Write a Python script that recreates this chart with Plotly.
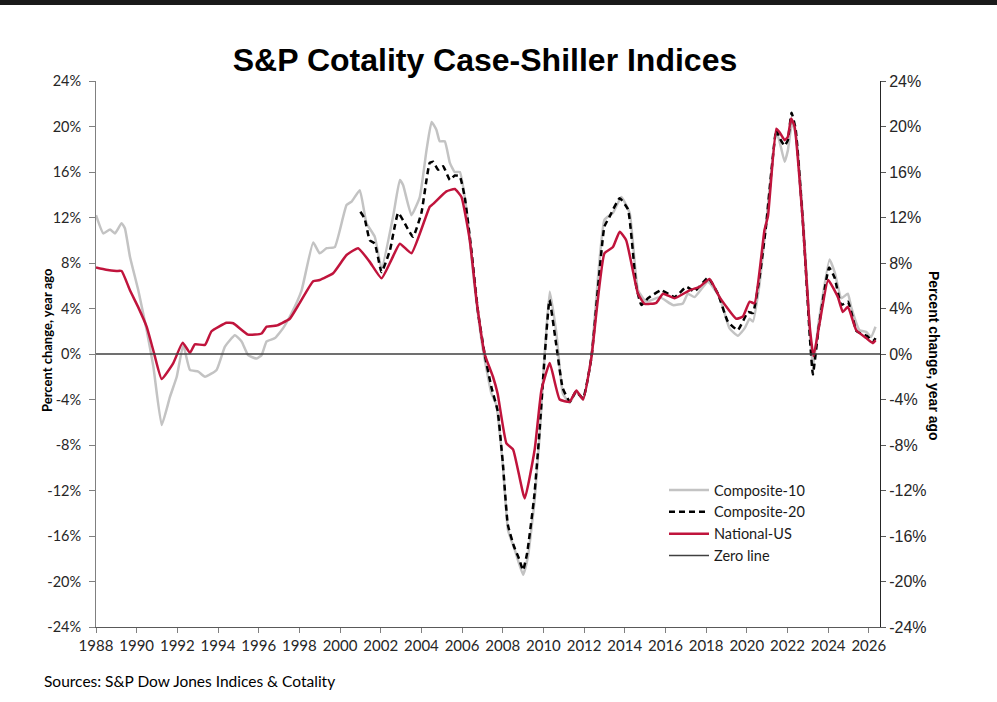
import plotly.graph_objects as go

# ---- data (decimal years, percent change year ago) ----
nat_x = [1988.0, 1988.5, 1989.0, 1989.26, 1989.67, 1990.08, 1990.49, 1990.85, 1991.23, 1991.8,
         1992.26, 1992.62, 1992.86, 1993.36, 1993.68, 1994.42, 1994.75, 1995.48, 1996.14, 1996.39,
         1996.88, 1997.12, 1997.53, 1998.02, 1998.68, 1999.0, 1999.66, 2000.32, 2000.89, 2001.46,
         2002.04, 2002.53, 2002.94, 2003.51, 2004.41, 2004.58, 2005.23, 2005.64, 2005.97, 2006.38,
         2006.71, 2007.11, 2007.52, 2007.75, 2008.18, 2008.51, 2009.08, 2009.57, 2009.9, 2010.31,
         2010.8, 2011.29, 2011.62, 2011.95, 2012.36, 2013.0, 2013.42, 2013.75, 2014.07, 2014.65,
         2014.98, 2015.55, 2015.88, 2016.45, 2017.19, 2017.68, 2018.17, 2018.66, 2019.48, 2019.81,
         2020.14, 2020.38, 2020.87, 2021.04, 2021.45, 2021.61, 2021.86, 2022.02, 2022.18, 2022.35,
         2022.76, 2023.08, 2023.28, 2023.58, 2024.0, 2024.48, 2024.72, 2024.97, 2025.38, 2025.87,
         2026.2, 2026.33]
nat_y = [7.6, 7.4, 7.3, 7.3, 5.6, 4.1, 2.4, 0.1, -2.2, -0.8,
         1.0, 0.1, 0.85, 0.8, 2.0, 2.75, 2.7, 1.7, 1.8, 2.4,
         2.5, 2.7, 3.1, 4.5, 6.4, 6.5, 7.1, 8.7, 9.3, 8.1,
         6.65, 8.3, 9.7, 8.85, 12.95, 13.2, 14.3, 14.5, 13.8, 10.0,
         4.75, 0.0, -2.0, -3.5, -7.85, -8.4, -12.7, -8.4, -3.2, -0.8,
         -4.0, -4.2, -3.2, -4.0, -0.3, 8.85, 9.4, 10.75, 10.0, 5.3,
         4.4, 4.5, 5.3, 4.9, 5.6, 5.9, 6.6, 5.0, 3.1, 3.3,
         4.6, 4.45, 10.9, 12.1, 19.8, 19.5, 18.8, 19.1, 20.7, 20.0,
         11.5, 2.7, -0.2, 2.7, 6.5, 5.0, 3.7, 4.15, 2.1, 1.4,
         0.95, 1.2]

c10_x = [1988.0, 1988.36, 1988.69, 1988.93, 1989.26, 1989.42, 1989.67, 1990.08, 1990.49, 1990.82,
         1991.23, 1991.64, 1991.97, 1992.29, 1992.62, 1993.03, 1993.36, 1993.93, 1994.34, 1994.83,
         1995.16, 1995.48, 1995.9, 1996.14, 1996.39, 1996.8, 1997.21, 1997.62, 1998.11, 1998.68,
         1999.0, 1999.34, 1999.74, 2000.32, 2000.57, 2000.97, 2001.3, 2001.71, 2002.04, 2002.61,
         2002.94, 2003.1, 2003.51, 2003.92, 2004.25, 2004.5, 2004.74, 2004.9, 2005.15, 2005.4,
         2005.64, 2005.89, 2006.22, 2006.62, 2007.03, 2007.44, 2007.69, 2008.01, 2008.26, 2008.59,
         2009.0, 2009.24, 2009.57, 2009.82, 2010.06, 2010.31, 2010.64, 2010.96, 2011.29, 2011.62,
         2011.95, 2012.36, 2013.0, 2013.42, 2013.83, 2014.24, 2014.65, 2015.06, 2015.72, 2016.37,
         2016.86, 2017.1, 2017.43, 2018.09, 2018.66, 2019.15, 2019.56, 2019.89, 2020.14, 2020.3,
         2020.63, 2020.95, 2021.45, 2021.61, 2021.86, 2022.02, 2022.23, 2022.43, 2022.8, 2023.1,
         2023.25, 2023.55, 2024.07, 2024.32, 2024.65, 2024.97, 2025.13, 2025.54, 2025.87, 2026.11,
         2026.33]
c10_y = [12.2, 10.6, 10.95, 10.6, 11.5, 11.05, 8.55, 5.6, 2.1, -1.1,
         -6.25, -3.75, -2.0, 0.8, -1.4, -1.55, -2.0, -1.4, 0.65, 1.65,
         1.1, -0.1, -0.4, -0.1, 1.1, 1.4, 2.3, 3.6, 5.6, 9.8,
         8.85, 9.3, 9.4, 13.1, 13.4, 14.4, 11.5, 10.3, 7.5, 12.1,
         15.3, 14.85, 12.2, 13.8, 17.9, 20.4, 19.7, 18.7, 18.7, 16.8,
         16.0, 16.0, 12.7, 5.9, 0.35, -3.45, -4.5, -9.9, -15.5, -17.2,
         -19.4, -17.8, -12.8, -7.0, 0.0, 5.5, 1.8, -3.5, -4.3, -3.3,
         -4.0, -0.2, 11.8, 12.4, 13.8, 12.4, 5.6, 4.6, 5.0, 4.3,
         4.45, 5.3, 5.0, 6.35, 5.0, 2.25, 1.6, 2.25, 3.1, 2.85,
         6.2, 11.5, 19.5, 18.7, 16.9, 17.9, 20.4, 19.1, 11.0, 2.0,
         -1.2, 3.0, 8.3, 7.2, 4.9, 5.3, 4.15, 2.1, 1.95, 1.5,
         2.4]

c20_x = [2001.0, 2001.21, 2001.46, 2001.71, 2002.04, 2002.45, 2002.86, 2003.27, 2003.59, 2004.0,
         2004.41, 2004.58, 2004.82, 2005.07, 2005.4, 2005.64, 2005.89, 2006.13, 2006.46, 2006.79,
         2007.11, 2007.44, 2007.75, 2008.0, 2008.25, 2008.55, 2008.8, 2009.0, 2009.2, 2009.55,
         2009.8, 2010.05, 2010.3, 2010.6, 2010.95, 2011.3, 2011.6, 2011.95, 2012.36, 2013.0,
         2013.26, 2013.75, 2014.16, 2014.57, 2014.82, 2015.14, 2015.8, 2016.45, 2017.03, 2017.43,
         2018.09, 2018.58, 2019.07, 2019.56, 2020.06, 2020.3, 2020.63, 2020.95, 2021.45, 2021.61,
         2021.86, 2022.02, 2022.2, 2022.4, 2022.78, 2023.1, 2023.25, 2023.55, 2024.05, 2024.32,
         2024.65, 2024.97, 2025.15, 2025.4, 2025.9, 2026.2, 2026.33]
c20_y = [12.5, 11.9, 10.0, 9.7, 7.2, 9.1, 12.4, 11.2, 10.3, 12.4,
         16.8, 16.9, 16.2, 16.5, 15.3, 15.7, 15.6, 13.8, 9.1, 3.6,
         0.0, -2.9, -5.0, -9.5, -15.0, -16.9, -18.0, -19.0, -17.5, -12.5,
         -7.0, -0.5, 4.75, 1.2, -3.0, -4.2, -3.3, -3.9, -0.3, 11.2,
         12.1, 13.7, 12.7, 5.9, 4.3, 4.9, 5.6, 5.0, 5.9, 5.5,
         6.7, 5.3, 2.85, 2.1, 3.7, 3.6, 6.8, 11.3, 19.7, 19.0,
         18.3, 18.8, 21.2, 19.8, 11.0, 1.5, -1.8, 2.5, 7.6, 6.7,
         4.3, 4.6, 3.6, 2.0, 1.6, 1.1, 1.4]

zero_x = [1988.0, 2026.55]
zero_y = [0, 0]

year_ticks = list(range(1988, 2027, 2))
pct_ticks = list(range(-24, 25, 4))
pct_labels = [f"{v}%" for v in pct_ticks]

CAL = "Lato, 'Open Sans', sans-serif"
ARI = "'Liberation Sans', Arial, sans-serif"
SMOOTH = dict(shape="spline", smoothing=0.4)

fig = go.Figure()
fig.add_trace(go.Scatter(x=c10_x, y=c10_y, mode="lines", name="Composite-10",
                         line=dict(color="#c3c3c3", width=2.5, **SMOOTH)))
fig.add_trace(go.Scatter(x=c20_x, y=c20_y, mode="lines", name="Composite-20",
                         line=dict(color="#000000", width=2.5, dash="6px,4px", **SMOOTH)))
fig.add_trace(go.Scatter(x=nat_x, y=nat_y, mode="lines", name="National-US",
                         line=dict(color="#c0143c", width=2.5, **SMOOTH)))
fig.add_trace(go.Scatter(x=zero_x, y=zero_y, mode="lines", name="Zero line",
                         line=dict(color="#404040", width=1.5), yaxis="y2"))

L, R, T, B = 96, 117, 81, 75
W, H = 997, 702
pw, ph = W - L - R, H - T - B

def px(xp):
    return (xp - L) / pw

def py(yp):
    return (H - B - yp) / ph

fig.update_layout(
    width=W, height=H,
    margin=dict(l=L, r=R, t=T, b=B),
    paper_bgcolor="white", plot_bgcolor="white",
    title=dict(text="<b>S&P Cotality Case-Shiller Indices</b>",
               font=dict(family=ARI, size=32, color="#000000"),
               x=485 / W, xanchor="center",
               y=1 - 60 / H, yanchor="middle"),
    showlegend=True,
    legend=dict(x=px(664), y=py(474), xanchor="left", yanchor="top",
                bgcolor="rgba(0,0,0,0)", font=dict(family=CAL, size=14.5, color="#1a1a1a"),
                itemwidth=40, tracegroupgap=0),
    xaxis=dict(range=[1988, 2026.55], tickmode="array", tickvals=year_ticks,
               ticktext=[str(y) for y in year_ticks], ticks="outside", ticklen=5,
               tickcolor="#808080", showline=True, linecolor="#595959", linewidth=1,
               showgrid=False, zeroline=False,
               tickfont=dict(family=CAL, size=15, color="#262626")),
    yaxis=dict(range=[-24, 24], tickmode="array", tickvals=pct_ticks, ticktext=pct_labels,
               ticks="outside", ticklen=6, tickcolor="#808080", showline=True,
               linecolor="#808080", linewidth=1, showgrid=False, zeroline=False,
               ticklabelstandoff=5,
               tickfont=dict(family=CAL, size=14.5, color="#262626")),
    yaxis2=dict(range=[-24, 24], overlaying="y", side="right", tickmode="array",
                tickvals=pct_ticks, ticktext=pct_labels, ticks="outside", ticklen=5,
                tickcolor="#595959", showline=True, linecolor="#262626", linewidth=1,
                showgrid=False, zeroline=False,
                tickfont=dict(family=ARI, size=16, color="#262626")),
    annotations=[
        dict(text="<b>Percent change, year ago</b>", xref="paper", yref="paper",
             x=px(47), y=py(340), xanchor="center", yanchor="middle",
             textangle=-90, showarrow=False,
             font=dict(family=CAL, size=13, color="#000000")),
        dict(text="<b>Percent change, year ago</b>", xref="paper", yref="paper",
             x=px(934), y=py(356), xanchor="center", yanchor="middle",
             textangle=90, showarrow=False,
             font=dict(family=ARI, size=14, color="#000000")),
        dict(text="Sources: S&P Dow Jones Indices & Cotality", xref="paper", yref="paper",
             x=px(42), y=py(681), xanchor="left", yanchor="middle", showarrow=False,
             font=dict(family=CAL, size=15.5, color="#000000")),
    ],
    shapes=[
        dict(type="rect", xref="paper", yref="paper", x0=px(0), x1=px(W),
             y0=py(5), y1=py(0), fillcolor="#1a1a1a", line=dict(width=0), layer="above"),
    ],
)

fig.write_html("out.html")
